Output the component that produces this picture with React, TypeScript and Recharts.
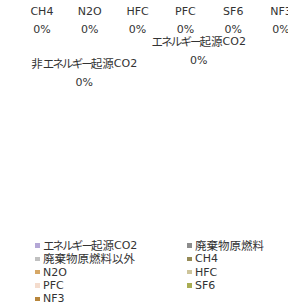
import {
  PieChart,
  Pie,
  Cell,
  Legend,
  ScatterChart,
  Scatter,
  XAxis,
  YAxis,
} from "recharts";

// 凡例の項目（すべて0%）
const legendNames = [
  "エネルギー起源CO2",
  "廃棄物原燃料",
  "廃棄物原燃料以外",
  "CH4",
  "N2O",
  "HFC",
  "PFC",
  "SF6",
  "NF3",
];
const legendValues = [0, 0, 0, 0, 0, 0, 0, 0, 0];
const legendColors = [
  "#b4a7d6",
  "#8c8c8c",
  "#c0c0c0",
  "#958a56",
  "#d6a765",
  "#cdc49a",
  "#f4dccd",
  "#a9ad52",
  "#b8863b",
];

// 上段のガス別ラベル
const gasNames = ["CH4", "N2O", "HFC", "PFC", "SF6", "NF3"];
const gasShares = [0, 0, 0, 0, 0, 0];

// CO2 のラベル
const co2Names = ["エネルギー起源CO2", "非エネルギー起源CO2"];
const co2Shares = [0, 0];

const latinFont = "'DejaVu Sans', sans-serif";
const cjkFont = "'Noto Sans CJK JP', sans-serif";
const textColor = "#333";

const legendData = legendNames.map((name, i) => ({ name, value: legendValues[i] }));
const gasData = gasNames.map((name, i) => ({ name, value: gasShares[i] }));
const co2Data = co2Names.map((name, i) => ({ name, value: co2Shares[i] }));

// 欧文・カナ・漢字で字の大きさと詰めを分ける
type Run = { t: string; kind: "latin" | "kana" | "kanji" };
const runs = (s: string): Run[] => {
  const out: Run[] = [];
  for (const ch of s) {
    const code = ch.charCodeAt(0);
    const kind: Run["kind"] =
      code >= 0x30a0 && code <= 0x30ff ? "kana" : code >= 0x3000 ? "kanji" : "latin";
    const last = out[out.length - 1];
    if (last && last.kind === kind) last.t += ch;
    else out.push({ t: ch, kind });
  }
  return out;
};

const runStyle = (r: Run) => ({
  fontFamily: r.kind === "latin" ? latinFont : cjkFont,
  fontSize: r.kind === "latin" ? 11 : 11.5,
  letterSpacing: r.kind === "kana" ? -1.9 : 0,
});

const svgText = (s: string) =>
  runs(s).map((r, i) => (
    <tspan key={i} style={runStyle(r)}>
      {r.t}
    </tspan>
  ));

const makeLabel = (gap: number) => (props: any) => {
  const { cx, cy, payload } = props;
  return (
    <g fill={textColor}>
      <text x={cx} y={cy - gap} textAnchor="middle" dominantBaseline="central">
        {svgText(payload.name)}
      </text>
      <text x={cx} y={cy} textAnchor="middle" dominantBaseline="central">
        {svgText(`${payload.value}%`)}
      </text>
    </g>
  );
};

const renderLegend = (props: any) => {
  const items = [...(props.payload || [])].sort(
    (a: any, b: any) => legendNames.indexOf(a.value) - legendNames.indexOf(b.value)
  );
  return (
    <div
      style={{
        display: "grid",
        gridTemplateColumns: "152px auto",
        lineHeight: "13.3px",
        color: textColor,
      }}
    >
      {items.map((p: any) => (
        <div
          key={p.value}
          style={{ display: "flex", alignItems: "center", whiteSpace: "nowrap" }}
        >
          <span
            style={{
              display: "inline-block",
              width: 4.5,
              height: 4.5,
              background: p.color,
              marginRight: 3.5,
            }}
          />
          {runs(p.value).map((r, i) => (
            <span key={i} style={runStyle(r)}>
              {r.t}
            </span>
          ))}
        </div>
      ))}
    </div>
  );
};

export default function App() {
  return (
    <div
      style={{
        position: "absolute",
        top: 0,
        left: 0,
        width: 288,
        height: 307,
        overflow: "hidden",
        background: "#fff",
      }}
    >
      <div style={{ position: "absolute", top: 0, left: 0 }}>
        <PieChart width={288} height={307}>
          <Pie
            data={legendData}
            dataKey="value"
            nameKey="name"
            cx={144}
            cy={120}
            outerRadius={80}
            isAnimationActive={false}
          >
            {legendData.map((d, i) => (
              <Cell key={d.name} fill={legendColors[i]} />
            ))}
          </Pie>
          <Legend
            verticalAlign="top"
            content={renderLegend}
            wrapperStyle={{ top: 239, left: 35, width: 253 }}
          />
        </PieChart>
      </div>

      <div style={{ position: "absolute", top: 0, left: 0 }}>
        <ScatterChart
          width={305}
          height={40}
          margin={{ top: 0, right: 0, bottom: 11, left: 18 }}
        >
          <XAxis dataKey="name" type="category" hide />
          <YAxis dataKey="value" type="number" domain={[0, 1]} hide />
          <Scatter data={gasData} shape={makeLabel(18)} isAnimationActive={false} />
        </ScatterChart>
      </div>

      <div style={{ position: "absolute", top: 0, left: 0 }}>
        <ScatterChart
          width={256}
          height={93}
          margin={{ top: 49, right: 0, bottom: 0, left: 27 }}
        >
          <XAxis dataKey="name" type="category" reversed hide />
          <YAxis dataKey="name" type="category" reversed hide />
          <Scatter data={co2Data} shape={makeLabel(19)} isAnimationActive={false} />
        </ScatterChart>
      </div>
    </div>
  );
}
